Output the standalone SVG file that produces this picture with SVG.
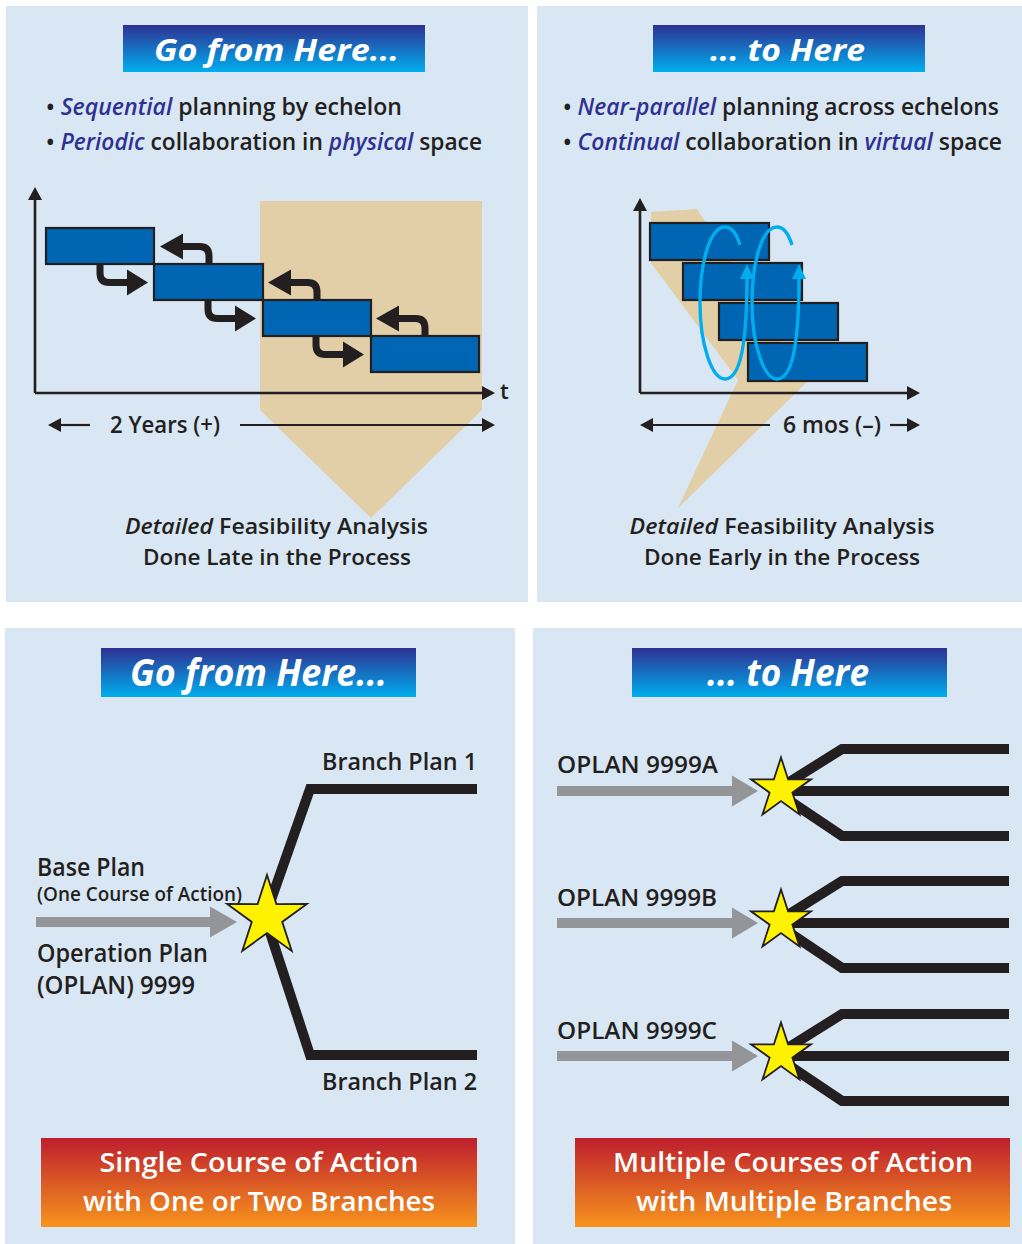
<svg xmlns="http://www.w3.org/2000/svg" width="1022" height="1244" viewBox="0 0 1022 1244">
<defs>
<linearGradient id="gBlue" x1="0" y1="0" x2="0" y2="1">
<stop offset="0" stop-color="#2e3192"/>
<stop offset="1" stop-color="#00aeef"/>
</linearGradient>
<linearGradient id="gOrange" x1="0" y1="0" x2="0" y2="1">
<stop offset="0" stop-color="#be1e2d"/>
<stop offset="1" stop-color="#f7941d"/>
</linearGradient>
<marker id="ahK" markerWidth="15" markerHeight="14" refX="2" refY="7" orient="auto" markerUnits="userSpaceOnUse">
<path d="M0,0 L13,7 L0,14 z" fill="#231f20"/>
</marker>
<marker id="ahC" markerWidth="16" markerHeight="14" refX="2" refY="7" orient="auto" markerUnits="userSpaceOnUse">
<path d="M0,0 L15,7 L0,14 z" fill="#00aeef"/>
</marker>
<polygon id="star42" points="0,-42 9.4,-12.9 39.9,-13 15.2,4.9 24.7,34 0,16 -24.7,34 -15.2,4.9 -39.9,-13 -9.4,-12.9"/>
<polygon id="star31" points="0,-31.5 7.1,-9.7 30,-9.7 11.4,3.7 18.5,25.5 0,12 -18.5,25.5 -11.4,3.7 -30,-9.7 -7.1,-9.7"/>
</defs>
<style>
.panel{fill:#d9e6f3}
.tan{fill:#e2cfa8}
.bar{fill:#0066b3;stroke:#231f20;stroke-width:2.2}
.axis{fill:none;stroke:#231f20;stroke-width:2.6;marker-end:url(#ahK)}
.dim{fill:none;stroke:#231f20;stroke-width:2.2;marker-end:url(#ahK)}
.step{fill:none;stroke:#231f20;stroke-width:7}
.head{fill:#231f20}
.loop{fill:none;stroke:#00aeef;stroke-width:3.4;marker-end:url(#ahC)}
.branch{fill:none;stroke:#231f20;stroke-width:10;stroke-linejoin:miter}
.gray{fill:#939598}
.star{fill:#fff200;stroke:#231f20;stroke-width:1.8;stroke-linejoin:miter}
text{font-family:"Open Sans","Liberation Sans",sans-serif;font-weight:600;fill:#231f20}
.title{font-weight:700;font-style:italic;fill:#ffffff}
.em{font-style:italic;fill:#2e3192}
.it{font-style:italic}
.white{fill:#ffffff}
</style>

<rect width="1022" height="1244" fill="#ffffff"/>

<!-- Panel 1: top-left -->
<g id="panel-top-left">
<rect class="panel" x="6" y="6" width="522" height="596"/>
<rect x="123" y="25" width="302" height="47" fill="url(#gBlue)"/>
<text class="title" x="154" y="61" font-size="31" textLength="245" lengthAdjust="spacingAndGlyphs">Go from Here...</text>
<text x="46" y="115" font-size="22.5" textLength="356" lengthAdjust="spacingAndGlyphs">• <tspan class="em">Sequential</tspan> planning by echelon</text>
<text x="46" y="150" font-size="22.5" textLength="436" lengthAdjust="spacingAndGlyphs">• <tspan class="em">Periodic</tspan> collaboration in <tspan class="em">physical</tspan> space</text>
<polygon class="tan" points="260,201 482,201 482,410 371,518 260,410"/>
<path class="axis" d="M35 393 V198"/>
<path class="axis" d="M35 393 H484"/>
<text x="500" y="399" font-size="22" font-weight="700">t</text>
<path class="dim" d="M90 425 H59"/>
<path class="dim" d="M240 425 H484"/>
<text x="110" y="433" font-size="22.5" textLength="110" lengthAdjust="spacingAndGlyphs">2 Years (+)</text>
<text x="276.5" y="534" font-size="22" text-anchor="middle" textLength="303" lengthAdjust="spacingAndGlyphs"><tspan class="it">Detailed</tspan> Feasibility Analysis</text>
<text x="277" y="565" font-size="22" text-anchor="middle" textLength="268" lengthAdjust="spacingAndGlyphs">Done Late in the Process</text>
</g>
<g id="bar-tl-1"><rect class="bar" x="46" y="228" width="108" height="36"/></g>
<g id="bar-tl-2"><rect class="bar" x="154" y="264" width="109" height="36"/></g>
<g id="bar-tl-3"><rect class="bar" x="263" y="300" width="108" height="36"/></g>
<g id="bar-tl-4"><rect class="bar" x="371" y="336" width="108" height="36"/></g>

<!-- Panel 2: top-right -->
<g id="panel-top-right">
<rect class="panel" x="537" y="6" width="485" height="596"/>
<rect x="653" y="25" width="272" height="47" fill="url(#gBlue)"/>
<text class="title" x="710" y="61" font-size="31" textLength="155" lengthAdjust="spacingAndGlyphs">... to Here</text>
<text x="563" y="115" font-size="22.5" textLength="436" lengthAdjust="spacingAndGlyphs">• <tspan class="em">Near-parallel</tspan> planning across echelons</text>
<text x="563" y="150" font-size="22.5" textLength="439" lengthAdjust="spacingAndGlyphs">• <tspan class="em">Continual</tspan> collaboration in <tspan class="em">virtual</tspan> space</text>
<polygon class="tan" points="651,212 697,209 807,382 678,508 738,380 651,263"/>
<path class="axis" d="M640 393 V209"/>
<path class="axis" d="M640 393 H909"/>
<path class="dim" d="M770 425 H651"/>
<path class="dim" d="M890 425 H909"/>
<text x="783" y="433" font-size="22.5" textLength="98" lengthAdjust="spacingAndGlyphs">6 mos (–)</text>
<text x="782" y="534" font-size="22" text-anchor="middle" textLength="305" lengthAdjust="spacingAndGlyphs"><tspan class="it">Detailed</tspan> Feasibility Analysis</text>
<text x="782" y="565" font-size="22" text-anchor="middle" textLength="276" lengthAdjust="spacingAndGlyphs">Done Early in the Process</text>
</g>
<g id="bar-tr-1"><rect class="bar" x="650" y="223" width="119" height="37"/></g>
<g id="bar-tr-2"><rect class="bar" x="683" y="263" width="119" height="37"/></g>
<g id="bar-tr-3"><rect class="bar" x="719" y="303" width="119" height="37"/></g>
<g id="bar-tr-4"><rect class="bar" x="748" y="343" width="119" height="38"/></g>

<!-- Panel 3: bottom-left -->
<g id="panel-bottom-left">
<rect class="panel" x="5" y="628" width="510" height="616"/>
<rect x="101" y="648" width="315" height="49" fill="url(#gBlue)"/>
<text class="title" x="130" y="686" font-size="37" textLength="257" lengthAdjust="spacingAndGlyphs">Go from Here...</text>
<text x="322" y="770" font-size="24" textLength="155" lengthAdjust="spacingAndGlyphs">Branch Plan 1</text>
<text x="322" y="1090" font-size="24" textLength="155" lengthAdjust="spacingAndGlyphs">Branch Plan 2</text>
<text x="37" y="876" font-size="24.5" textLength="108" lengthAdjust="spacingAndGlyphs">Base Plan</text>
<text x="37" y="901" font-size="19.5" textLength="205" lengthAdjust="spacingAndGlyphs">(One Course of Action)</text>
<text x="37" y="962" font-size="24.5" textLength="171" lengthAdjust="spacingAndGlyphs">Operation Plan</text>
<text x="37" y="994" font-size="24.5" textLength="158" lengthAdjust="spacingAndGlyphs">(OPLAN) 9999</text>
<rect x="41" y="1138" width="436" height="89" fill="url(#gOrange)"/>
<text class="white" x="259" y="1172" font-size="27.5" text-anchor="middle" textLength="319" lengthAdjust="spacingAndGlyphs">Single Course of Action</text>
<text class="white" x="259" y="1211" font-size="27.5" text-anchor="middle" textLength="352" lengthAdjust="spacingAndGlyphs">with One or Two Branches</text>
</g>

<!-- Panel 4: bottom-right -->
<g id="panel-bottom-right">
<rect class="panel" x="533" y="628" width="489" height="616"/>
<rect x="632" y="648" width="315" height="49" fill="url(#gBlue)"/>
<text class="title" x="707" y="686" font-size="37" textLength="162" lengthAdjust="spacingAndGlyphs">... to Here</text>
<text x="557" y="773" font-size="23.5" textLength="161" lengthAdjust="spacingAndGlyphs">OPLAN 9999A</text>
<text x="557" y="906" font-size="23.5" textLength="160" lengthAdjust="spacingAndGlyphs">OPLAN 9999B</text>
<text x="557" y="1039" font-size="23.5" textLength="160" lengthAdjust="spacingAndGlyphs">OPLAN 9999C</text>
<rect x="575" y="1138" width="435" height="89" fill="url(#gOrange)"/>
<text class="white" x="793" y="1172" font-size="27.5" text-anchor="middle" textLength="360" lengthAdjust="spacingAndGlyphs">Multiple Courses of Action</text>
<text class="white" x="794" y="1211" font-size="27.5" text-anchor="middle" textLength="316" lengthAdjust="spacingAndGlyphs">with Multiple Branches</text>
</g>

<!-- Connectors -->
<g id="connectors">
<g id="steps-tl">
<g id="step-pair">
<path class="step" d="M100 264 V273 Q100 282.5 109.5 282.5 H129"/>
<polygon class="head" points="127,269.5 148,282.5 127,295.5"/>
<path class="step" d="M209 264 V256 Q209 246.5 199.5 246.5 H181"/>
<polygon class="head" points="183,233.5 160,246.5 183,259.5"/>
</g>
<use href="#step-pair" transform="translate(108,36)"/>
<use href="#step-pair" transform="translate(216,72)"/>
</g>
<g id="loops-tr">
<path id="loop1" class="loop" d="M740 245 C736 232 731 227 725 227 C710 227 700 262 700 303 C700 345 712 379 725 379 C740 379 747 345 747 277"/>
<use href="#loop1" transform="translate(52,0)"/>
</g>
<g id="branches-bl">
<path class="branch" d="M477 789 H310 L265 917 L310 1055 H477"/>
<path class="gray" d="M36 917 H210 V906.5 L237 922 L210 937.5 V927 H36 z"/>
</g>
<g id="branches-br">
<g id="fan">
<path class="branch" d="M775 791 L842 749 H1009"/>
<path class="branch" d="M775 791 H1009"/>
<path class="branch" d="M775 791 L842 836 H1009"/>
<path class="gray" d="M557 786 H732 V775.5 L758 791 L732 806.5 V796 H557 z"/>
</g>
<use href="#fan" transform="translate(0,132)"/>
<use href="#fan" transform="translate(0,265)"/>
</g>
</g>

<!-- Stars (decision nodes) -->
<g id="star-bl"><use href="#star42" class="star" x="267" y="917"/></g>
<g id="star-br-a"><use href="#star31" class="star" x="781" y="789"/></g>
<g id="star-br-b"><use href="#star31" class="star" x="781" y="921"/></g>
<g id="star-br-c"><use href="#star31" class="star" x="781" y="1054"/></g>
</svg>
